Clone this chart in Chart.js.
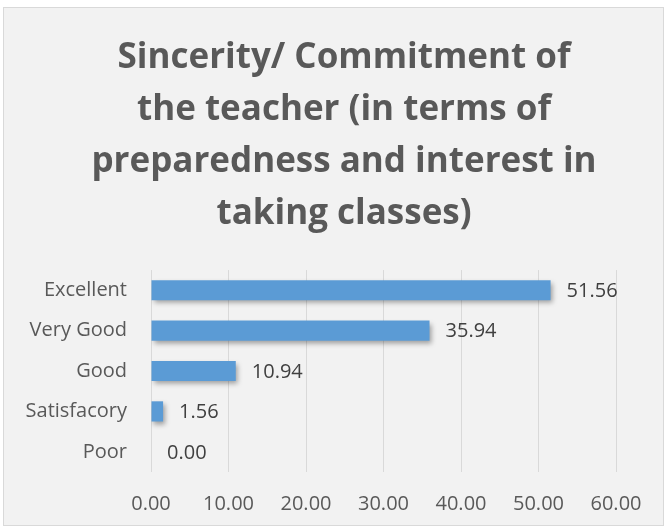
<!doctype html>
<html>

<head>
  <script src="https://cdn.jsdelivr.net/npm/chart.js@4"></script>
  <style>
    body { margin: 0; background: #fff; }
    #box { position: absolute; left: 3px; top: 7px; width: 661px; height: 519px; background: #f2f2f2; border: 1px solid #d9d9d9; box-sizing: border-box; }
  </style>
</head>

<body>
  <div id="box">
    <canvas id="canvas"></canvas>
  </div>
  <script>
    const categories = ['Excellent', 'Very Good', 'Good', 'Satisfacory', 'Poor'];
    const values = [51.56, 35.94, 10.94, 1.56, 0.00];
    const titleLines = ['Sincerity/ Commitment of', 'the teacher (in terms of', 'preparedness and interest in', 'taking classes)'];

    const FONT = "'Open Sans', sans-serif";

    // bar shadow while drawing the dataset
    const shadow = {
      id: 'shadow',
      beforeDatasetDraw(chart) {
        const ctx = chart.ctx;
        ctx.save();
        ctx.shadowColor = 'rgba(0,0,0,0.35)';
        ctx.shadowBlur = 5;
        ctx.shadowOffsetX = 2;
        ctx.shadowOffsetY = 3;
      },
      afterDatasetDraw(chart) {
        chart.ctx.restore();
      }
    };

    // the title in the original is centred on the whole box, a bit right of the plot
    const titleShift = {
      id: 'titleShift',
      afterLayout(chart) {
        if (chart.titleBlock) chart.titleBlock.left += 52;
      }
    };

    // value labels at the end of each bar
    const valueLabels = {
      id: 'valueLabels',
      afterDatasetsDraw(chart) {
        const ctx = chart.ctx;
        const meta = chart.getDatasetMeta(0);
        ctx.save();
        ctx.font = '20px ' + FONT;
        ctx.fillStyle = '#404040';
        ctx.textAlign = 'left';
        ctx.textBaseline = 'middle';
        meta.data.forEach((bar, i) => {
          ctx.fillText(values[i].toFixed(2), bar.x + 16, bar.y + 1);
        });
        ctx.restore();
      }
    };

    new Chart(document.getElementById('canvas'), {
      type: 'bar',
      data: {
        labels: categories,
        datasets: [{
          data: values,
          backgroundColor: (context) => {
            const chart = context.chart;
            const el = chart.getDatasetMeta(0).data[context.dataIndex];
            if (!el || el.y == null) return '#5b9bd5';
            const g = chart.ctx.createLinearGradient(0, el.y - 10, 0, el.y + 10);
            g.addColorStop(0, '#6aa6e0');
            g.addColorStop(1, '#4286cc');
            return g;
          },
          borderWidth: 0,
          categoryPercentage: 1,
          barPercentage: 0.5
        }]
      },
      options: {
        indexAxis: 'y',
        responsive: true,
        maintainAspectRatio: false,
        animation: false,
        layout: { padding: { left: 16, right: 47, top: 0, bottom: 0 } },
        plugins: {
          legend: { display: false },
          tooltip: { enabled: false },
          title: {
            display: true,
            text: titleLines,
            color: '#595959',
            font: { family: FONT, size: 35, weight: 'bold', lineHeight: 1.486 },
            padding: { top: 24, bottom: 30 }
          }
        },
        scales: {
          x: {
            min: 0,
            max: 60,
            afterFit: (s) => { s.height = 53; },
            ticks: {
              stepSize: 10,
              color: '#595959',
              font: { family: FONT, size: 20 },
              padding: 20,
              maxRotation: 0,
              callback: (v) => Number(v).toFixed(2)
            },
            grid: { color: '#d9d9d9', lineWidth: 1, drawTicks: false },
            border: { display: false }
          },
          y: {
            afterFit: (s) => { s.width = 131; },
            ticks: {
              color: '#595959',
              font: { family: FONT, size: 20 },
              padding: 24
            },
            grid: { display: false, drawTicks: false },
            border: { display: false }
          }
        }
      },
      plugins: [shadow, titleShift, valueLabels]
    });
  </script>
</body>

</html>
